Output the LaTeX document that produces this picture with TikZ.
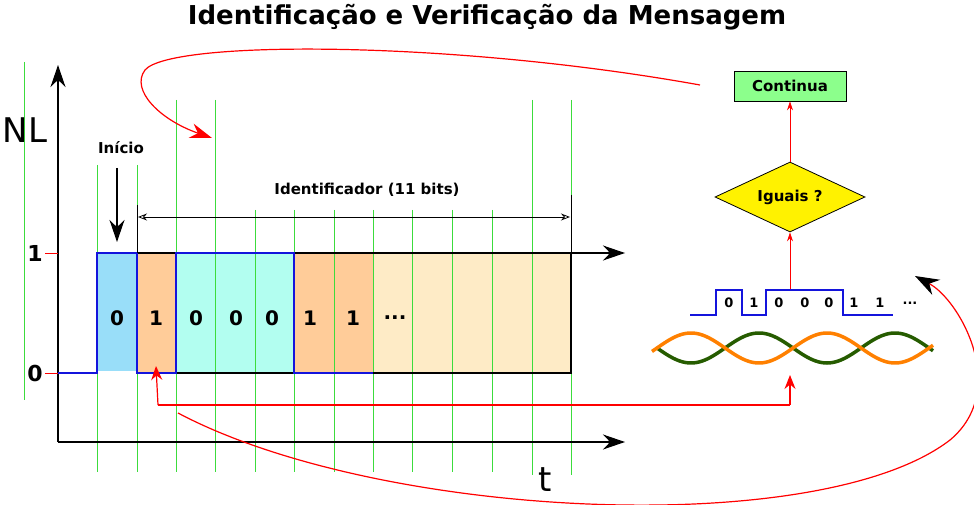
\documentclass[tikz,border=0pt]{standalone}
\usepackage{fontspec}
\setmainfont{DejaVu Sans}
\usetikzlibrary{arrows.meta,shapes.geometric}
\definecolor{gl}{RGB}{60,220,60}
\definecolor{bl}{RGB}{20,20,220}
\begin{document}
\begin{tikzpicture}[x=1pt,y=-1pt,
  grid/.style={gl,line width=0.8pt},
  sig/.style={bl,line width=2pt},
  bit/.style={font=\bfseries\fontsize{20}{22}\selectfont},
  sbit/.style={font=\bfseries\fontsize{13}{14}\selectfont},
  redar/.style={red,line width=1.2pt,-{Stealth[length=14pt,width=11pt]}},
  bigtip/.style={-{Stealth[length=22pt,width=15pt]}}]
\useasboundingbox (0,0) rectangle (974,505);
\node[font=\bfseries\fontsize{26}{30}\selectfont] (title) at (487,17) {Identificação e Verificação da Mensagem};
% fills
\fill[cyan!40] (97,253) rectangle (137,371);
\fill[orange!40] (137,253) rectangle (176,373);
\fill[teal!10!green!20!cyan!30] (176,253) rectangle (294,373);
\fill[orange!40] (294,253) rectangle (373,373);
\fill[yellow!30!orange!20] (373,253) rectangle (571,373);
% green grid
\foreach \x/\a/\b in {24/62/400,97/165/472,137/165/472,176/100/472,215/100/472,255/210/472,294/210/472,334/210/472,373/210/472,412/210/472,452/210/472,492/210/472,532/100/475,571/100/475}
  \draw[grid] (\x,\a) -- (\x,\b);
% axes
\draw[line width=1.2pt,bigtip] (58,442) -- (58,65);
\draw[line width=1.2pt,bigtip] (58,442) -- (625,442);
\draw[line width=1.2pt,bigtip] (137,253) -- (625,253);
\draw[line width=1.2pt] (137,373) -- (571,373) -- (571,253);
\draw[red,line width=1pt] (45,253) -- (58,253) (45,373) -- (58,373);
\node[font=\bfseries\fontsize{22}{24}\selectfont] (one) at (35,253) {1};
\node[font=\bfseries\fontsize{22}{24}\selectfont] (zero) at (35,373) {0};
\node[font=\fontsize{34}{36}\selectfont] (nl) at (25,130) {NL};
\node[font=\fontsize{34}{36}\selectfont] (t) at (545,480) {t};
% signal
\draw[sig] (58,373) -- (97,373) -- (97,253) -- (137,253) -- (137,373) -- (176,373) -- (176,253) -- (294,253) -- (294,373) -- (373,373);
\foreach \x/\b in {117/0,156/1,196/0,236/0,272/0,310/1,353/1}
  \node[bit] at (\x,318) {\b};
\node[bit] (dots1) at (395,318) {...};
% inicio
\node[font=\bfseries\fontsize{15}{17}\selectfont] (ini) at (121,148) {Início};
\draw[line width=1.3pt,bigtip] (117,168) -- (117,242);
\node[font=\bfseries\fontsize{15}{17}\selectfont] (idt) at (367,190) {Identificador (11 bits)};
\draw[line width=0.8pt] (137,205) -- (137,253) (571,195) -- (571,253);
\draw[line width=0.8pt,{Stealth[length=9pt,width=7pt,open]}-{Stealth[length=9pt,width=7pt,open]}] (138,217) -- (570,217);
% right side
\node[draw,fill=green!45,line width=0.8pt,minimum width=112pt,minimum height=30pt,font=\bfseries\fontsize{15}{17}\selectfont] (cont) at (790,86) {Continua};
\node[draw,diamond,aspect=2.2,fill=yellow,line width=0.8pt,inner sep=1pt,minimum width=150pt,minimum height=70pt,font=\bfseries\fontsize{15}{17}\selectfont] (ig) at (790,197) {Iguais ?};
\draw[red,line width=0.8pt,-{Stealth[length=9pt,width=6pt]}] (ig.north) -- (cont.south);
\coordinate (sigtop) at (790,290);
\draw[red,line width=0.8pt,-{Stealth[length=9pt,width=6pt]}] (sigtop) -- (ig.south);
\draw[bl,line width=1.5pt] (690,315) -- (716,315) -- (716,290) -- (742,290) -- (742,315) -- (766,315) -- (766,290) -- (843,290) -- (843,315) -- (893,315);
\foreach \x/\b in {729/0,754/1,779/0,805/0,829/0,854/1,880/1}
  \node[sbit] at (\x,303) {\b};
\node[sbit] (dots2) at (910,303) {...};
\draw[green!30!black!70!olive,line width=3.5pt] plot[domain=0:276,samples=100,smooth] ({\x+657},{348+15*sin(\x*2.647)});
\draw[orange,line width=3.5pt] plot[domain=-5:276,samples=100,smooth] ({\x+657},{348-15*sin(\x*2.647)});
% red feedback
\coordinate (la) at (158,405);
\coordinate (ra) at (790,405);
\draw[red,line width=1.2pt] (la) -- (ra);
\draw[redar] (la) -- (156,366);
\draw[redar] (ra) -- (790,375);
\coordinate (c1) at (178,413);
\coordinate (c2) at (915,276);
\draw[red,line width=1.2pt,-{Stealth[length=24pt,width=17pt,black]}] (c1) .. controls (380,520) and (820,540) .. (950,440) .. controls (1010,390) and (960,300) .. (c2);
\coordinate (c3) at (700,85);
\coordinate (c4) at (212,138);
\draw[red,line width=1.2pt,-{Stealth[length=22pt,width=15pt]}] (c3) .. controls (450,40) and (170,40) .. (145,70) .. controls (130,90) and (160,120) .. (c4);
\end{tikzpicture}
\end{document}
